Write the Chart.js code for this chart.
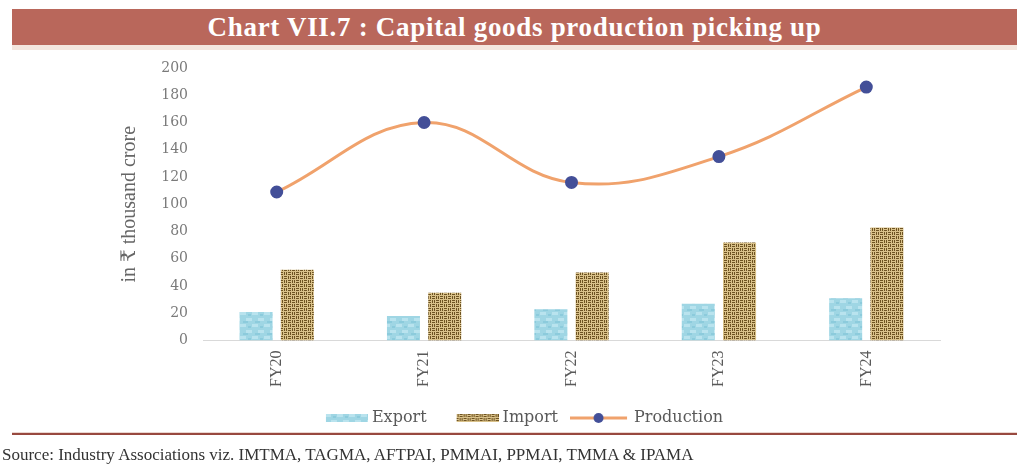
<!DOCTYPE html>
<html>
<head>
<meta charset="utf-8">
<script src="https://cdn.jsdelivr.net/npm/chart.js@4.4.1/dist/chart.umd.min.js"></script>
<style>
  html, body { margin: 0; padding: 0; background: #fff; }
  #wrap { position: relative; width: 1017px; height: 470px; overflow: hidden; }
  #title {
    position: absolute; left: 12px; top: 9px; width: 1005px; height: 36px;
    background: #b9675b; border-bottom: 5px solid #f4e6de;
    color: #fff; font: bold 27px "Liberation Serif", serif; letter-spacing: 0.7px;
    text-align: center; line-height: 36px;
  }
  #chartBox { position: absolute; left: 0; top: 0; width: 1017px; height: 470px; }
  #rule {
    position: absolute; left: 12px; top: 432px; width: 1005px; height: 0;
    border-top: 1px solid #ead6d0; border-bottom: 2px solid #98493f;
  }
  #source {
    position: absolute; left: 2px; top: 445px;
    font: 17px "Liberation Serif", serif; color: #333;
  }
</style>
</head>
<body>
<div id="wrap">
  <div id="title">Chart VII.7 : Capital goods production picking up</div>
  <div id="chartBox"><canvas id="capChart"></canvas></div>
  <div id="rule"></div>
  <div id="source">Source: Industry Associations viz. IMTMA, TAGMA, AFTPAI, PMMAI, PPMAI, TMMA &amp; IPAMA</div>
</div>
<script>
// ================= DATA =================
const years = ["FY20", "FY21", "FY22", "FY23", "FY24"];
const exportVals = [21, 18, 23, 27, 31];
const importVals = [52, 35, 50, 72, 83];
const productionVals = [109, 160, 116, 135, 186];

// ================= PATTERNS =================
function makeExportPattern() {
  const c = document.createElement("canvas");
  c.width = 12; c.height = 12;
  const g = c.getContext("2d");
  g.fillStyle = "#9fd6e4";
  g.fillRect(0, 0, 12, 12);
  g.fillStyle = "#b9e3ee";
  g.fillRect(0, 0, 6, 3);
  g.fillRect(6, 6, 6, 3);
  g.fillStyle = "#8ccbdc";
  g.fillRect(3, 9, 5, 2);
  g.fillRect(8, 2, 3, 2);
  return g.createPattern(c, "repeat");
}

function makeImportPattern() {
  const c = document.createElement("canvas");
  c.width = 8; c.height = 8;
  const g = c.getContext("2d");
  g.fillStyle = "#d9c189";
  g.fillRect(0, 0, 8, 8);
  g.fillStyle = "#6e5322";
  // woven look: short dark strokes alternating direction
  g.fillRect(0, 0, 3, 1);
  g.fillRect(0, 2, 3, 1);
  g.fillRect(4, 0, 1, 3);
  g.fillRect(6, 0, 1, 3);
  g.fillRect(4, 4, 3, 1);
  g.fillRect(4, 6, 3, 1);
  g.fillRect(0, 4, 1, 3);
  g.fillRect(2, 4, 1, 3);
  return g.createPattern(c, "repeat");
}

const exportFill = makeExportPattern();
const importFill = makeImportPattern();

// legend icons, centred on the legend box; swatch sits slightly past the box edge
const ICON_BOX = 47;

function swatch(fill) {
  const c = document.createElement("canvas");
  c.width = ICON_BOX + 8; c.height = 8;
  const g = c.getContext("2d");
  g.fillStyle = fill;
  g.fillRect(c.width - 42, 0, 42, 8);
  return c;
}

function lineSwatch() {
  const c = document.createElement("canvas");
  c.width = 65; c.height = 12;
  const g = c.getContext("2d");
  g.strokeStyle = "#f0a26c";
  g.lineWidth = 3;
  g.beginPath();
  g.moveTo(0, 6);
  g.lineTo(57, 6);
  g.stroke();
  g.fillStyle = "#434f98";
  g.beginPath();
  g.arc(28.5, 6, 5, 0, Math.PI * 2);
  g.fill();
  return c;
}

const legendIcons = [swatch(exportFill), swatch(importFill), lineSwatch()];

// ================= CHART =================
const serif = "'Liberation Serif', 'DejaVu Serif', serif";

const ctx = document.getElementById("capChart").getContext("2d");

const capChart = new Chart(ctx, {
  data: {
    labels: years,
    datasets: [
      {
        type: "line",
        label: "Production",
        data: productionVals,
        borderColor: "#f0a26c",
        borderWidth: 3,
        tension: 0.4,
        pointRadius: 5,
        pointBackgroundColor: "#434f98",
        pointBorderColor: "#434f98",
        order: 0
      },
      {
        type: "bar",
        label: "Export",
        data: exportVals,
        backgroundColor: exportFill,
        categoryPercentage: 0.56,
        barPercentage: 0.8,
        order: 1
      },
      {
        type: "bar",
        label: "Import",
        data: importVals,
        backgroundColor: importFill,
        categoryPercentage: 0.56,
        barPercentage: 0.8,
        order: 1
      }
    ]
  },
  options: {
    responsive: true,
    maintainAspectRatio: false,
    animation: false,
    layout: {
      padding: { left: 100, right: 77, top: 68, bottom: 34 }
    },
    plugins: {
      legend: {
        position: "bottom",
        labels: {
          usePointStyle: true,
          pointStyleWidth: ICON_BOX,
          color: "#595959",
          font: { family: "'DejaVu Serif', serif", size: 16 },
          padding: 21,
          generateLabels: (chart) => {
            const order = ["Export", "Import", "Production"];
            return order.map((name, i) => {
              const idx = chart.data.datasets.findIndex(d => d.label === name);
              return {
                text: name,
                datasetIndex: idx,
                pointStyle: legendIcons[i],
                fillStyle: "transparent",
                strokeStyle: "transparent",
                lineWidth: 0,
                fontColor: "#595959"
              };
            });
          }
        }
      },
      tooltip: { enabled: false }
    },
    scales: {
      x: {
        grid: { display: false },
        border: { display: true, color: "#d9d9d9", width: 1 },
        ticks: {
          minRotation: 90,
          maxRotation: 90,
          padding: 2,
          color: "#595959",
          font: { family: serif, size: 16 }
        }
      },
      y: {
        min: 0,
        max: 200,
        afterFit: (scale) => { scale.width = 103; },
        grid: { display: false, drawTicks: false },
        border: { display: false },
        ticks: {
          stepSize: 20,
          padding: 15,
          color: "#7a7a7a",
          font: { family: "'DejaVu Serif', serif", size: 14 }
        },
        title: {
          display: true,
          text: "in ₹ thousand crore",
          color: "#666666",
          font: { family: serif, size: 20 },
          padding: { top: 18, bottom: 0 }
        }
      }
    }
  }
});
</script>
</body>
</html>
